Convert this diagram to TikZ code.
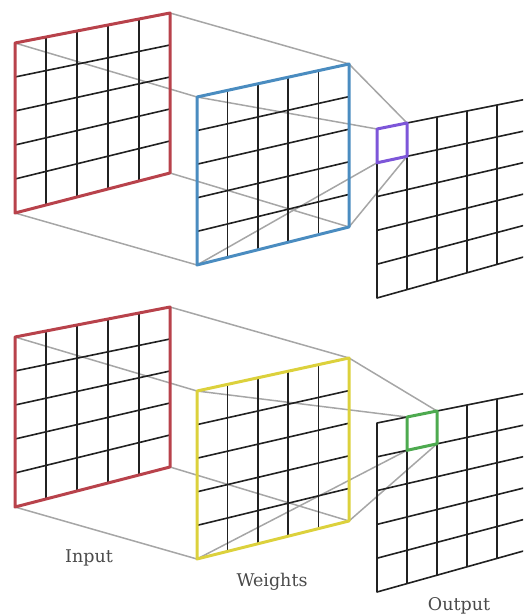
\documentclass[tikz,border=0pt]{standalone}
\usepackage{fontspec}
\setmainfont{DejaVu Serif}
\usepackage{xcolor}
\usetikzlibrary{calc}

\definecolor{InRed}{RGB}{184,66,75}
\definecolor{WtBlue}{RGB}{74,140,192}
\definecolor{WtYellow}{RGB}{220,209,60}
\definecolor{CellPurple}{RGB}{125,86,217}
\definecolor{CellGreen}{RGB}{77,170,79}
\definecolor{RayGray}{RGB}{166,166,166}
\definecolor{LabelGray}{RGB}{74,74,74}

% 5x5 grid between the corners #1-tl, #1-tr, #1-br, #1-bl; #2 = style of its outline
\newcommand{\meshgrid}[2]{%
  \foreach \k in {1,...,4} {
    \draw[mesh] ($(#1-tl)!\k/5!(#1-tr)$) -- ($(#1-bl)!\k/5!(#1-br)$);
    \draw[mesh] ($(#1-tl)!\k/5!(#1-bl)$) -- ($(#1-tr)!\k/5!(#1-br)$);
  }
  \draw[#2] (#1-tl) -- (#1-tr) -- (#1-br) -- (#1-bl) -- cycle;
}

% corners of one cell (column #3, row #4) of grid #1, named #2-tl ...
\newcommand{\cellat}[4]{%
  \pgfmathsetmacro\colA{#3/5}\pgfmathsetmacro\colB{(#3+1)/5}
  \pgfmathsetmacro\rowA{#4/5}\pgfmathsetmacro\rowB{(#4+1)/5}
  \coordinate (#2-t0) at ($(#1-tl)!\colA!(#1-tr)$);
  \coordinate (#2-t1) at ($(#1-tl)!\colB!(#1-tr)$);
  \coordinate (#2-b0) at ($(#1-bl)!\colA!(#1-br)$);
  \coordinate (#2-b1) at ($(#1-bl)!\colB!(#1-br)$);
  \coordinate (#2-tl) at ($(#2-t0)!\rowA!(#2-b0)$);
  \coordinate (#2-bl) at ($(#2-t0)!\rowB!(#2-b0)$);
  \coordinate (#2-tr) at ($(#2-t1)!\rowA!(#2-b1)$);
  \coordinate (#2-br) at ($(#2-t1)!\rowB!(#2-b1)$);
}

\begin{document}
\begin{tikzpicture}[
  x=1pt, y=-1pt,
  mesh/.style={draw=black!87, line width=1.6pt, line join=round},
  rim/.style={draw=#1, line width=3pt, line join=round},
  ray/.style={draw=RayGray, line width=1.5pt},
  caption/.style={font=\fontsize{17.5}{20}\selectfont, text=LabelGray, anchor=base}
]
\useasboundingbox (0,0) rectangle (523,615);
\clip (0,0) rectangle (523,615);

% ================ top: blue weights ================
\coordinate (a-in-tl) at (15,43);   \coordinate (a-in-tr) at (170,13);
\coordinate (a-in-br) at (170,173); \coordinate (a-in-bl) at (15,213);
\coordinate (a-wt-tl) at (197,97);  \coordinate (a-wt-tr) at (349,64);
\coordinate (a-wt-br) at (349,227); \coordinate (a-wt-bl) at (197,265);
\coordinate (a-out-tl) at (377,129); \coordinate (a-out-tr) at (527,99);
\coordinate (a-out-br) at (527,256); \coordinate (a-out-bl) at (377,298);
\cellat{a-out}{a-cell}{0}{0}

\foreach \c in {tl,tr,br,bl}
  \draw[ray] (a-in-\c) -- (a-wt-\c) -- (a-cell-\c);

\meshgrid{a-in}{rim=InRed}
\meshgrid{a-wt}{rim=WtBlue}
\meshgrid{a-out}{mesh}
\draw[rim=CellPurple] (a-cell-tl) -- (a-cell-tr) -- (a-cell-br) -- (a-cell-bl) -- cycle;

% ================ bottom: yellow weights ================
\begin{scope}[shift={(0,294)}]
  \coordinate (b-in-tl) at (15,43);   \coordinate (b-in-tr) at (170,13);
  \coordinate (b-in-br) at (170,173); \coordinate (b-in-bl) at (15,213);
  \coordinate (b-wt-tl) at (197,97);  \coordinate (b-wt-tr) at (349,64);
  \coordinate (b-wt-br) at (349,227); \coordinate (b-wt-bl) at (197,265);
  \coordinate (b-out-tl) at (377,129); \coordinate (b-out-tr) at (527,99);
  \coordinate (b-out-br) at (527,256); \coordinate (b-out-bl) at (377,298);
\end{scope}
\cellat{b-out}{b-cell}{1}{0}

\foreach \c in {tl,tr,br,bl}
  \draw[ray] (b-in-\c) -- (b-wt-\c) -- (b-cell-\c);

\meshgrid{b-in}{rim=InRed}
\meshgrid{b-wt}{rim=WtYellow}
\meshgrid{b-out}{mesh}
\draw[rim=CellGreen] (b-cell-tl) -- (b-cell-tr) -- (b-cell-br) -- (b-cell-bl) -- cycle;

% ================ labels ================
\node[caption] (lblIn)  at (89,562)  {Input};
\node[caption] (lblWt)  at (272,586) {Weights};
\node[caption] (lblOut) at (459,610) {Output};
\end{tikzpicture}
\end{document}
